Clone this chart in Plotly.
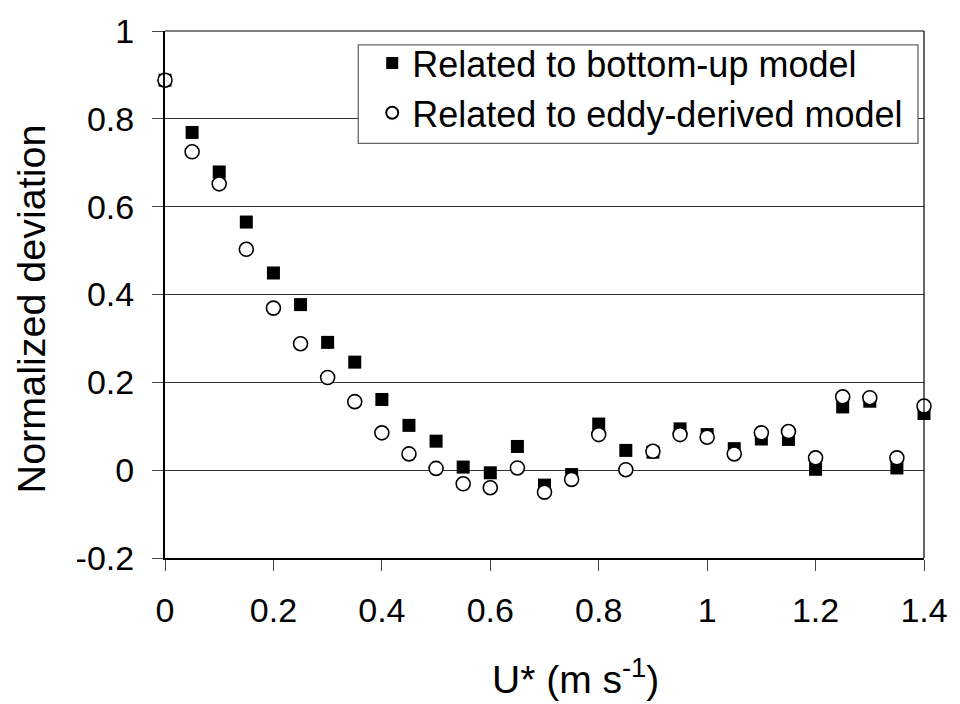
import plotly.graph_objects as go

u_star = [0, 0.05, 0.1, 0.15, 0.2, 0.25, 0.3, 0.35, 0.4, 0.45, 0.5, 0.55, 0.6, 0.65, 0.7,
          0.75, 0.8, 0.85, 0.9, 0.95, 1.0, 1.05, 1.1, 1.15, 1.2, 1.25, 1.3, 1.35, 1.4]
bottom_up = [0.888, 0.769, 0.679, 0.565, 0.449, 0.377, 0.291, 0.246, 0.161, 0.102, 0.066,
             0.007, -0.006, 0.054, -0.034, -0.010, 0.105, 0.045, 0.041, 0.094, 0.081,
             0.049, 0.071, 0.070, 0.002, 0.144, 0.157, 0.005, 0.129]
eddy = [0.888, 0.725, 0.652, 0.503, 0.369, 0.288, 0.211, 0.156, 0.085, 0.037, 0.004,
        -0.031, -0.040, 0.005, -0.050, -0.021, 0.081, 0.001, 0.043, 0.081, 0.075,
        0.037, 0.085, 0.088, 0.028, 0.167, 0.165, 0.028, 0.146]

x_ticks = [0, 0.2, 0.4, 0.6, 0.8, 1.0, 1.2, 1.4]
x_ticklabels = ["0", "0.2", "0.4", "0.6", "0.8", "1", "1.2", "1.4"]
y_ticks = [-0.2, 0, 0.2, 0.4, 0.6, 0.8, 1.0]
y_ticklabels = ["-0.2", "0", "0.2", "0.4", "0.6", "0.8", "1"]
x_title = "U* (m s<sup>-1</sup>)"
y_title = "Normalized deviation"

FONT = "Liberation Sans, Arial, sans-serif"

fig = go.Figure()
fig.add_trace(go.Scatter(
    x=u_star, y=bottom_up, mode="markers", name="Related to bottom-up model",
    marker=dict(symbol="square", size=13, color="black", line=dict(width=0)),
    cliponaxis=False,
))
fig.add_trace(go.Scatter(
    x=u_star, y=eddy, mode="markers", name="Related to eddy-derived model",
    marker=dict(symbol="circle", size=14, color="white", line=dict(width=1.6, color="black")),
    cliponaxis=False,
))

# legend frame (white box hides the gridline behind the legend)
fig.add_shape(type="rect", xref="paper", yref="paper",
              x0=0.2546, x1=0.9921, y0=0.7869, y1=0.9738,
              line=dict(color="#666666", width=1.3), fillcolor="white", layer="above")
# top and right plot borders (thin)
fig.add_shape(type="line", xref="paper", yref="paper", x0=0, x1=1, y0=1, y1=1,
              line=dict(color="black", width=1.2), layer="above")
fig.add_shape(type="line", xref="paper", yref="paper", x0=1, x1=1, y0=0, y1=1,
              line=dict(color="black", width=1.2), layer="above")

# axis titles (placed as in the reference)
fig.add_annotation(text=x_title, xref="paper", yref="paper", x=0.541, y=-0.225,
                   xanchor="center", yanchor="middle", showarrow=False,
                   font=dict(size=39, family=FONT, color="black"))
fig.add_annotation(text=y_title, xref="paper", yref="paper", x=-0.177, y=0.473,
                   xanchor="center", yanchor="middle", showarrow=False, textangle=-90,
                   font=dict(size=39.5, family=FONT, color="black"))

fig.update_layout(
    width=960, height=704,
    margin=dict(l=165, r=33, t=23, b=146),
    paper_bgcolor="white", plot_bgcolor="white",
    font=dict(family=FONT, size=34, color="black"),
    showlegend=True,
    legend=dict(
        x=0.273, y=0.996, xanchor="left", yanchor="top",
        borderwidth=0, bgcolor="rgba(0,0,0,0)",
        font=dict(size=36), itemsizing="constant", tracegroupgap=0,
    ),
)
fig.update_xaxes(
    range=[0, 1.4], tickvals=x_ticks, ticktext=x_ticklabels,
    showgrid=False, zeroline=False,
    showline=True, linecolor="black", linewidth=2,
    ticks="outside", ticklen=11, tickwidth=1, tickcolor="#444444",
    ticklabelstandoff=10,
)
fig.update_yaxes(
    range=[-0.2, 1.0], tickvals=y_ticks, ticktext=y_ticklabels,
    showgrid=True, gridcolor="#333333", gridwidth=1,
    zeroline=False,
    showline=True, linecolor="black", linewidth=2,
    ticks="outside", ticklen=11, tickwidth=1, tickcolor="#444444",
    ticklabelstandoff=11,
)

fig.write_html("out.html")
